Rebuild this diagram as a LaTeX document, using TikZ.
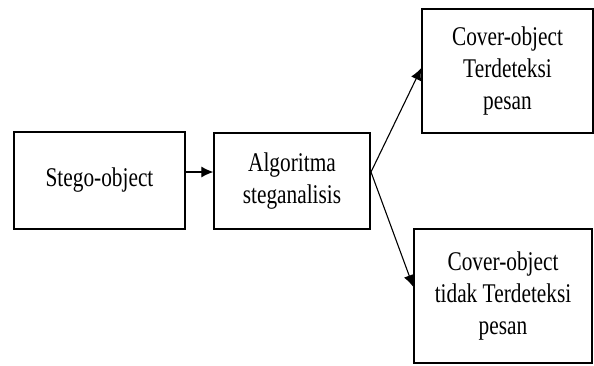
\documentclass[tikz,border=0pt]{standalone}
\usepackage{fontspec}
\setmainfont{Liberation Serif}[FakeStretch=0.79]
\usetikzlibrary{arrows.meta}

\tikzset{
  blok/.style={draw, line width=1.3pt, align=center, inner sep=0pt,
    font=\fontsize{27}{32}\selectfont},
  panah/.style={-{Latex[length=12pt,width=11pt]}, line width=1.1pt}
}

\begin{document}
\begin{tikzpicture}[x=1pt,y=-1pt]
\useasboundingbox (0,0) rectangle (594,365);
%\draw[help lines] (0,0) grid (594,365);
\node[blok, minimum width=171pt, minimum height=97pt] (stego) at (99.5,180.5) {Stego-object};
\node[blok, minimum width=156pt, minimum height=96pt] (algo) at (292,181) {Algoritma\\steganalisis};
\node[blok, minimum width=171pt, minimum height=124pt] (terdeteksi) at (507.5,71) {Cover-object\\Terdeteksi\\pesan};
\node[blok, minimum width=178pt, minimum height=134pt] (tidak) at (503,296) {Cover-object\\tidak Terdeteksi\\pesan};
\coordinate (cabang) at (371,172);
\draw[panah] (stego.east |- 0,172) -- (algo.west |- 0,172);
\draw[panah] (cabang) -- ([yshift=3pt]terdeteksi.west);
\draw[panah] (cabang) -- ([yshift=9pt]tidak.west);
\end{tikzpicture}
\end{document}
